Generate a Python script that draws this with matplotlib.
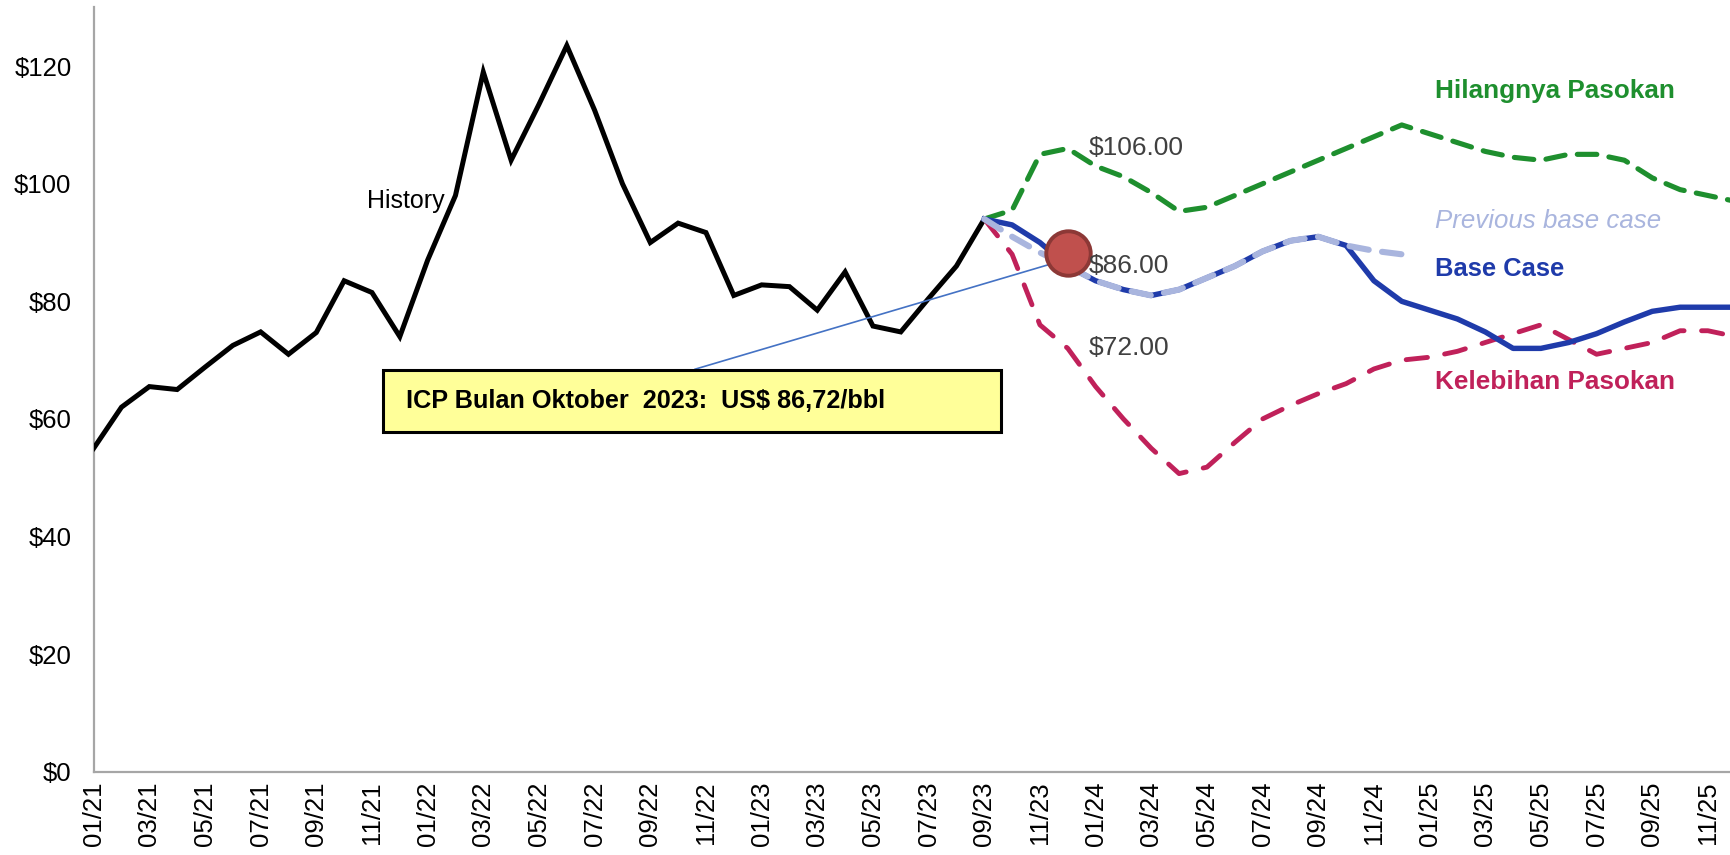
import matplotlib
matplotlib.use("Agg")

import numpy as np
import pandas as pd
import matplotlib.pyplot as plt
from matplotlib import font_manager
from matplotlib.patches import Rectangle

# bulan 01/21 .. 12/25
months = pd.date_range("2021-01-01", "2025-12-01", freq="MS").strftime("%m/%y").tolist()

# harga historis (01/21 .. 09/23)
history = [55.0, 62.0, 65.5, 65.0, 68.8, 72.5, 74.8, 71.0, 74.7, 83.5, 81.5, 74.0,
           87.0, 98.0, 119.0, 104.0, 113.5, 123.5, 112.5, 100.0, 90.0, 93.3, 91.7, 81.0,
           82.8, 82.5, 78.5, 85.0, 75.8, 74.8, 80.5, 86.0, 94.0]

# skenario mulai 09/23
forecast_start = "09/23"
base_case = [94.0, 93.0, 90.0, 86.0, 83.5, 82.0, 81.0, 82.0, 84.0, 86.0, 88.5, 90.3,
             91.0, 89.5, 83.5, 80.0, 78.5, 77.0, 74.8, 72.0, 72.0, 73.0, 74.5, 76.5,
             78.3, 79.0, 79.0, 79.0]
previous_base = [94.0, 91.0, 88.3, 86.0, 83.5, 82.0, 81.0, 82.0, 84.0, 86.0, 88.5, 90.3,
                 91.0, 89.5, 88.6, 88.0]
supply_loss = [94.0, 95.5, 105.0, 106.0, 103.0, 101.2, 98.5, 95.3, 96.0, 98.0, 100.0, 102.0,
               104.0, 106.0, 108.0, 110.0, 108.5, 107.0, 105.5, 104.5, 104.0, 105.0, 105.0, 104.0,
               101.0, 99.0, 98.0, 97.0]
supply_surplus = [94.0, 88.0, 76.0, 72.0, 65.5, 60.0, 55.0, 50.7, 51.8, 56.0, 60.0, 62.3,
                  64.3, 66.0, 68.5, 70.0, 70.5, 71.5, 73.0, 74.5, 76.0, 73.5, 71.0, 72.0,
                  73.0, 75.0, 75.0, 74.0]

# titik ICP dan label harga
icp_month = "12/23"
icp_value = 88.2
price_labels = [106.0, 86.0, 72.0]

GREEN = "#1E8F2E"
RED = "#C0215A"
BLUE = "#1F3BAA"
LIGHT = "#A9B5DE"

installed = {f.name for f in font_manager.fontManager.ttflist}
narrow = "Liberation Sans Narrow" in installed
box_family = "Liberation Sans Narrow" if narrow else "Liberation Sans"
box_size = 22 if narrow else 18.2
plt.rcParams["font.family"] = ["Liberation Sans", "DejaVu Sans"]

fig = plt.figure(figsize=(17.31, 8.55), dpi=100)
ax = fig.add_axes([0.0541, 0.0974, 0.9459, 0.894])

x_hist = np.arange(len(history))
i0 = months.index(forecast_start)

ax.plot(x_hist, history, color="black", lw=3.6, solid_joinstyle="miter", zorder=3)

ax.plot(np.arange(i0, i0 + len(supply_loss)), supply_loss, color=GREEN, lw=3.7,
        dashes=(3.8, 2.4), dash_capstyle="round", zorder=3)
ax.plot(np.arange(i0, i0 + len(supply_surplus)), supply_surplus, color=RED, lw=3.5,
        dashes=(4.4, 3.6), dash_capstyle="round", zorder=3)
ax.plot(np.arange(i0, i0 + len(base_case)), base_case, color=BLUE, lw=3.9, zorder=4)
ax.plot(np.arange(i0, i0 + len(previous_base)), previous_base, color=LIGHT, lw=4.4,
        dashes=(3.2, 2.2), dash_capstyle="round", zorder=5)

xi = months.index(icp_month)
ax.plot([xi], [icp_value], marker="o", ms=32, mfc="#C0504D", mec="#8C3836", mew=2.8,
        zorder=7)

for v in price_labels:
    ax.text(xi + 0.75, v, f"${v:.2f}", color="#404040", fontsize=19, va="center",
            ha="left", zorder=8)

# teks keterangan seri
ax.text(48.2, 115.8, "Hilangnya Pasokan", color=GREEN, fontsize=18.8,
        fontweight="bold", va="center")
ax.text(48.2, 93.7, "Previous base case", color=LIGHT, fontsize=18.6,
        fontstyle="italic", va="center")
ax.text(48.2, 85.5, "Base Case", color=BLUE, fontsize=18.4, fontweight="bold",
        va="center")
ax.text(48.2, 66.2, "Kelebihan Pasokan", color=RED, fontsize=18.8,
        fontweight="bold", va="center")
ax.text(11.2, 97.1, "History", color="black", fontsize=18, va="center", ha="center")

# kotak ICP
ax.annotate("", xy=(xi, icp_value - 1.0), xycoords="data",
            xytext=(0.3655, 0.5255), textcoords="axes fraction",
            arrowprops=dict(arrowstyle="-", color="#4472C4", lw=1.2), zorder=6)
ax.add_patch(Rectangle((0.1767, 0.4444), 0.3774, 0.0811, transform=ax.transAxes,
                       facecolor="#FFFF99", edgecolor="black", lw=2.2, zorder=6))
ax.text(0.1907, 0.485, "ICP Bulan Oktober  2023:  US$ 86,72/bbl", transform=ax.transAxes,
        family=[box_family, "DejaVu Sans"], fontsize=box_size, fontweight="bold",
        va="center", ha="left", zorder=7)

ax.set_xlim(0, 58.83)
ax.set_ylim(0, 130)
ax.set_yticks(np.arange(0, 121, 20))
ax.set_yticklabels([f"${v}" for v in range(0, 121, 20)])
ax.set_xticks(np.arange(0, len(months) - 1, 2))
ax.set_xticklabels(months[:-1:2], rotation=90)
ax.tick_params(axis="y", length=0, pad=16, labelsize=18.5)
ax.tick_params(axis="x", length=0, pad=7, labelsize=18.5)

for side in ["top", "right"]:
    ax.spines[side].set_visible(False)
for side in ["left", "bottom"]:
    ax.spines[side].set_color("#A6A6A6")
    ax.spines[side].set_linewidth(1.6)

plt.savefig("out.png", dpi=100)
plt.close()
